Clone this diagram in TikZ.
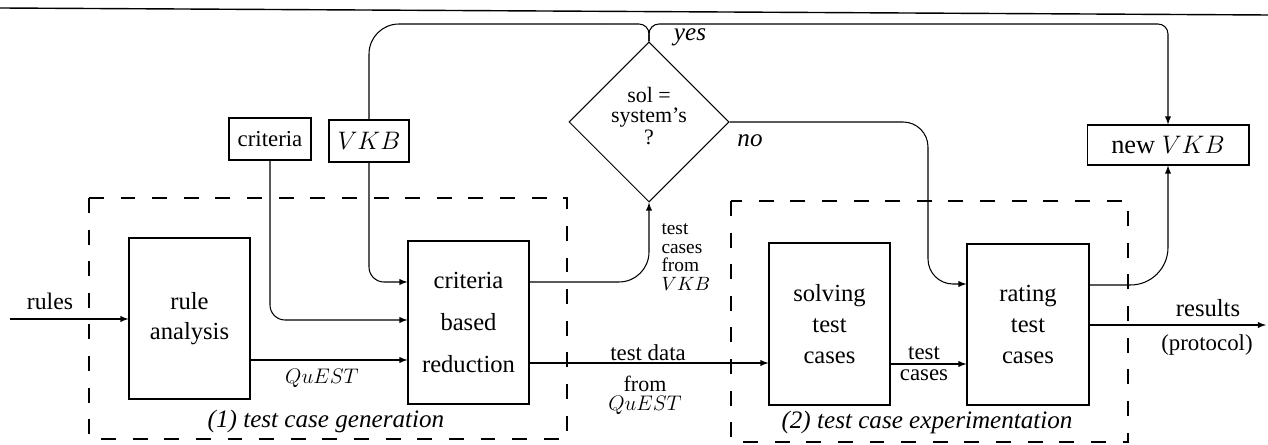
\documentclass[tikz,border=0pt]{standalone}
\usepackage{fontspec}
\setmainfont{Liberation Serif}
\usetikzlibrary{arrows,shapes.geometric}
\tikzset{
  block/.style={draw,minimum width=2.42cm,minimum height=3.22cm,align=center,font=\fontsize{14}{17.5}\selectfont},
  src/.style={draw,minimum height=0.84cm,inner sep=2pt,font=\fontsize{13}{15}\selectfont},
  decision/.style={draw,diamond,minimum width=3.2cm,minimum height=3.2cm,inner sep=0pt},
  group/.style={dash pattern=on 8.5pt off 9.5pt},
  lbl/.style={inner sep=0pt,align=center,font=\fontsize{11}{10.5}\selectfont},
  glbl/.style={inner sep=0pt,font=\itshape\fontsize{14.3}{14}\selectfont},
  flow/.style={-latex}
}
\begin{document}
\begin{tikzpicture}[x=0.02cm,y=-0.02cm,line width=0.6pt]
\useasboundingbox (0,0) rectangle (1268,445);
\draw[line width=0.8pt] (0,8) -- (1268,15);
\draw[group] (89,198) rectangle (567,439);
\draw[group] (731,201) rectangle (1128,442);
\node[block] (ana) at (189.5,318.5) {rule\\analysis};
\node[block,minimum height=3.26cm,font=\fontsize{14}{24}\selectfont] (red) at (468.5,322.5) {criteria\\based\\reduction};
\node[block,minimum height=3.24cm] (sol) at (829.5,324) {solving\\test\\cases};
\node[block,minimum width=2.44cm] (rat) at (1028,324.5) {rating\\test\\cases};
\node[src,minimum width=1.64cm] (crit) at (270,139) {criteria};
\node[src,minimum width=1.6cm,font=\fontsize{15.5}{15}\selectfont] (vkb) at (369,141) {$VKB$};
\node[src,minimum width=3.24cm,minimum height=0.8cm,font=\fontsize{15}{15}\selectfont] (nvkb) at (1168,145) {new $VKB$};
\node[decision] (dia) at (649,122) {};
\node[lbl,font=\fontsize{12.5}{11.5}\selectfont] (qsol) at (649,116) {sol =\\system's\\[1pt]?};
\coordinate (in) at (10,319);
\coordinate (top) at (600,24);
\coordinate (nox) at (928,284);
\coordinate (out) at (1266,325);
\draw[flow] (in) -- (in -| ana.west);
\draw[flow] (ana.east |- 0,360) -- (red.west |- 0,360);
\draw[flow,rounded corners=0.3cm] (crit.south) |- (red.west |- 0,320);
\draw[flow,rounded corners=0.3cm] (vkb.south) |- (red.west |- 0,282);
\draw[rounded corners=0.6cm] (vkb.north) |- (top);
\draw[rounded corners=0.2cm] (top) -| (dia.north);
\draw[flow,rounded corners=0.2cm] (dia.north) |- (top -| nvkb) -- (nvkb);
\draw[flow,rounded corners=0.5cm] (dia.east) -| (nox) -- (nox -| rat.west);
\draw[flow,rounded corners=0.6cm] (red.east |- 0,282) -| (dia.south);
\draw[flow] (red.east |- 0,363) -- (sol.west |- 0,363);
\draw[flow] (sol.east |- 0,364) -- (rat.west |- 0,364);
\draw[flow,rounded corners=0.75cm] (rat.east |- 0,285) -| (nvkb.south);
\draw[flow] (rat.east |- out) -- (out);
\node[lbl,font=\fontsize{13.5}{14}\selectfont] (lrules) at (50,301) {rules};
\node[lbl,font=\fontsize{13}{13}\selectfont] (lquest) at (322,378) {$QuEST$};
\node[glbl,anchor=base] (lyes) at (690,41) {yes};
\node[glbl,anchor=base] (lno) at (750,147) {no};
\node[lbl,align=left,anchor=west] (lvkb) at (661,257) {test\\cases\\from\\$VKB$};
\node[lbl,font=\fontsize{13}{13}\selectfont] (ldata) at (648,353) {test data};
\node[lbl,font=\fontsize{12.5}{11}\selectfont] (lfrom) at (645,395) {from\\$QuEST$};
\node[lbl,font=\fontsize{13}{12}\selectfont] (lcases) at (924,364) {test\\cases};
\node[lbl,font=\fontsize{14}{14}\selectfont] (lres) at (1208,308) {results};
\node[lbl,font=\fontsize{13}{13}\selectfont] (lprot) at (1207,345) {(protocol)};
\node[glbl] (lgen) at (326,421) {(1) test case generation};
\node[glbl] (lexp) at (927,422) {(2) test case experimentation};
\end{tikzpicture}
\end{document}
